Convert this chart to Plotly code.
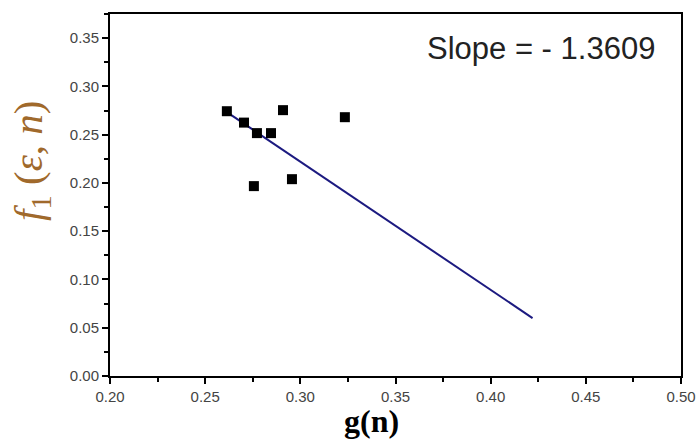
import plotly.graph_objects as go

# data
g_n = [0.2614, 0.2704, 0.2772, 0.2846, 0.2909, 0.2756, 0.2956, 0.3234]
f1 = [0.2743, 0.2625, 0.2516, 0.2516, 0.2754, 0.1967, 0.2039, 0.2681]
fit_x = [0.262, 0.422]
fit_y = [0.2725, 0.0600]
slope_text = "Slope = - 1.3609"
x_title = "<b>g(n)</b>"
y_title = "<i>f</i><sub>1</sub> (<i>ε</i>, <i>n</i>)"

fig = go.Figure()
fig.add_trace(go.Scatter(x=fit_x, y=fit_y, mode="lines",
                         line=dict(color="#1c1a80", width=2), showlegend=False))
fig.add_trace(go.Scatter(x=g_n, y=f1, mode="markers",
                         marker=dict(symbol="square", size=10, color="black"),
                         showlegend=False))

axis_common = dict(showline=True, linecolor="black", linewidth=2, mirror=True,
                   ticks="outside", ticklen=6, tickwidth=2, tickcolor="black",
                   showgrid=False, zeroline=False, automargin=False,
                   ticklabeloverflow="allow",
                   tickfont=dict(family="Liberation Sans, Arial", size=15, color="#444"))

fig.update_xaxes(range=[0.2, 0.5], dtick=0.05, tickformat=".2f",
                 minor=dict(ticks="outside", ticklen=4, tickwidth=2, dtick=0.025, tickcolor="black"),
                 **axis_common)
fig.update_yaxes(range=[0, 0.375], dtick=0.05, tickformat=".2f",
                 minor=dict(ticks="outside", ticklen=4, tickwidth=2, dtick=0.025, tickcolor="black"),
                 **axis_common)

fig.add_annotation(text=slope_text, xref="paper", yref="paper", x=0.958, y=0.906,
                   xanchor="right", yanchor="middle", showarrow=False,
                   font=dict(family="Liberation Sans, Arial", size=31, color="#222"))
# axis titles (placed as in the reference, off-centre)
fig.add_annotation(text=x_title, xref="paper", yref="paper", x=(371 - 110) / 571, y=-(421 - 376) / 362,
                   xanchor="center", yanchor="middle", showarrow=False,
                   font=dict(family="Liberation Serif, DejaVu Serif", size=32, color="black"))
fig.add_annotation(text=y_title, xref="paper", yref="paper", x=-(110 - 31) / 571, y=(376 - 161) / 362,
                   xanchor="center", yanchor="middle", showarrow=False, textangle=-90,
                   font=dict(family="Liberation Serif, DejaVu Serif", size=41, color="#a0692b"))

fig.update_layout(width=696, height=442, margin=dict(l=110, r=15, t=14, b=66, autoexpand=False),
                  paper_bgcolor="white", plot_bgcolor="white")
fig.write_html("out.html")
